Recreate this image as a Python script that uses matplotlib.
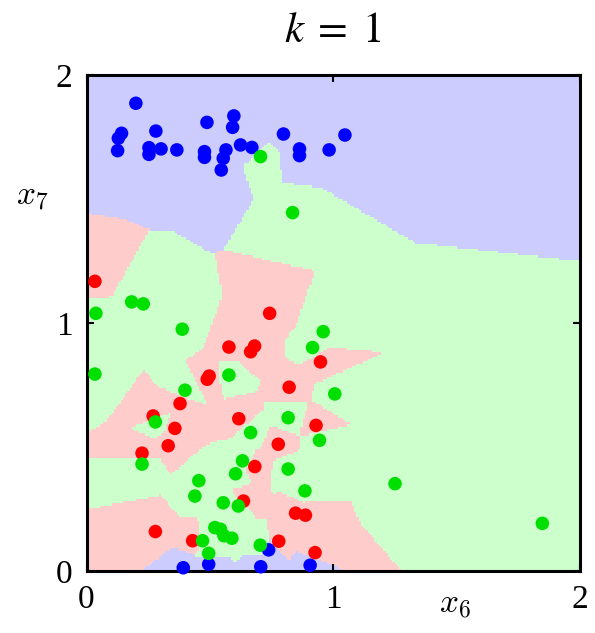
import numpy as np
import matplotlib
matplotlib.use("Agg")
import matplotlib.pyplot as plt
from matplotlib.colors import ListedColormap

# class 0 = blue, 1 = red, 2 = green
blue_x = [0.200, 0.142, 0.129, 0.126, 0.281, 0.253, 0.253, 0.302, 0.366, 0.488, 0.478, 0.478,
          0.597, 0.592, 0.565, 0.554, 0.546, 0.624, 0.670, 0.798, 0.863, 0.863, 0.983, 1.047,
          0.738, 0.392, 0.495, 0.706, 0.906]
blue_y = [1.886, 1.765, 1.745, 1.695, 1.774, 1.707, 1.680, 1.702, 1.698, 1.809, 1.691, 1.668,
          1.835, 1.789, 1.698, 1.664, 1.617, 1.718, 1.708, 1.762, 1.702, 1.675, 1.698, 1.758,
          0.085, 0.013, 0.027, 0.017, 0.023]

red_x = [0.034, 0.742, 0.577, 0.681, 0.665, 0.948, 0.497, 0.489, 0.821, 0.379, 0.270, 0.358,
         0.617, 0.930, 0.331, 0.777, 0.225, 0.682, 0.636, 0.847, 0.887, 0.279, 0.430, 0.779,
         0.926]
red_y = [1.168, 1.039, 0.903, 0.907, 0.884, 0.843, 0.786, 0.773, 0.741, 0.675, 0.625, 0.575,
         0.614, 0.587, 0.505, 0.511, 0.475, 0.421, 0.282, 0.233, 0.225, 0.159, 0.122, 0.120,
         0.074]

green_x = [0.705, 0.835, 0.183, 0.230, 0.038, 0.388, 0.959, 0.916, 0.034, 0.577, 0.399, 1.006,
           0.279, 0.817, 0.944, 0.665, 0.225, 0.632, 0.604, 0.817, 0.455, 0.439, 0.885, 0.554,
           0.615, 0.520, 0.543, 0.557, 0.589, 0.470, 0.495, 0.704, 1.250, 1.847]
green_y = [1.671, 1.445, 1.085, 1.077, 1.039, 0.975, 0.965, 0.901, 0.794, 0.790, 0.729, 0.714,
           0.601, 0.618, 0.527, 0.558, 0.431, 0.444, 0.392, 0.411, 0.364, 0.302, 0.323, 0.275,
           0.262, 0.175, 0.168, 0.142, 0.132, 0.122, 0.071, 0.104, 0.352, 0.192]

k = 1
x_ticks = [0, 1, 2]
y_ticks = [0, 1, 2]

plt.rcParams['mathtext.fontset'] = 'cm'

fig = plt.figure(figsize=(5.95, 6.33), dpi=100)
ax = fig.add_axes([0.1454, 0.098, 0.975 - 0.1454, 0.8815 - 0.098])

# 1-NN decision regions from the plotted points
X = np.concatenate([np.column_stack([blue_x, blue_y]),
                    np.column_stack([red_x, red_y]),
                    np.column_stack([green_x, green_y])])
labels = np.array([0] * len(blue_x) + [1] * len(red_x) + [2] * len(green_x))
n = 220
gx = np.linspace(0, 2, n)
gy = np.linspace(0, 2, n)
GX, GY = np.meshgrid(gx, gy)
G = np.column_stack([GX.ravel(), GY.ravel()])
d = ((G[:, None, :] - X[None, :, :]) ** 2).sum(-1)
idx = np.argsort(d, axis=1)[:, :k]
votes = labels[idx]
cls = np.array([np.bincount(v, minlength=3).argmax() for v in votes]).reshape(n, n)

cmap = ListedColormap(['#ccccff', '#ffcccc', '#ccffcc'])
ax.imshow(cls, origin='lower', extent=[0, 2, 0, 2], cmap=cmap, vmin=0, vmax=2,
          interpolation='nearest', aspect='auto')

ms = 95
ax.scatter(blue_x, blue_y, s=ms, c='#0000ff', edgecolors='none', clip_on=False, zorder=3)
ax.scatter(red_x, red_y, s=ms, c='#ff0000', edgecolors='none', clip_on=False, zorder=3)
ax.scatter(green_x, green_y, s=ms, c='#00e000', edgecolors='none', clip_on=False, zorder=3)

ax.set_xlim(0, 2)
ax.set_ylim(0, 2)
ax.set_xticks(x_ticks)
ax.set_yticks(y_ticks)
ax.set_xticklabels([str(t) for t in x_ticks], fontfamily='Liberation Serif', fontsize=24)
ax.set_yticklabels([str(t) for t in y_ticks], fontfamily='Liberation Serif', fontsize=24)
ax.tick_params(direction='in', length=5, width=1.5, top=True, right=True, pad=10)
for s in ax.spines.values():
    s.set_linewidth(2.2)

fig.text(333 / 595, 1 - 30 / 633, r'$k\;=\;%d$' % k, fontsize=31, ha='center', va='center',
         math_fontfamily='stix')
fig.text(455 / 595, 1 - 603 / 633, r'$x_6$', fontsize=24, ha='center', va='center')
fig.text(32 / 595, 1 - 196 / 633, r'$x_7$', fontsize=24, ha='center', va='center')

fig.savefig('out.png', dpi=100)
